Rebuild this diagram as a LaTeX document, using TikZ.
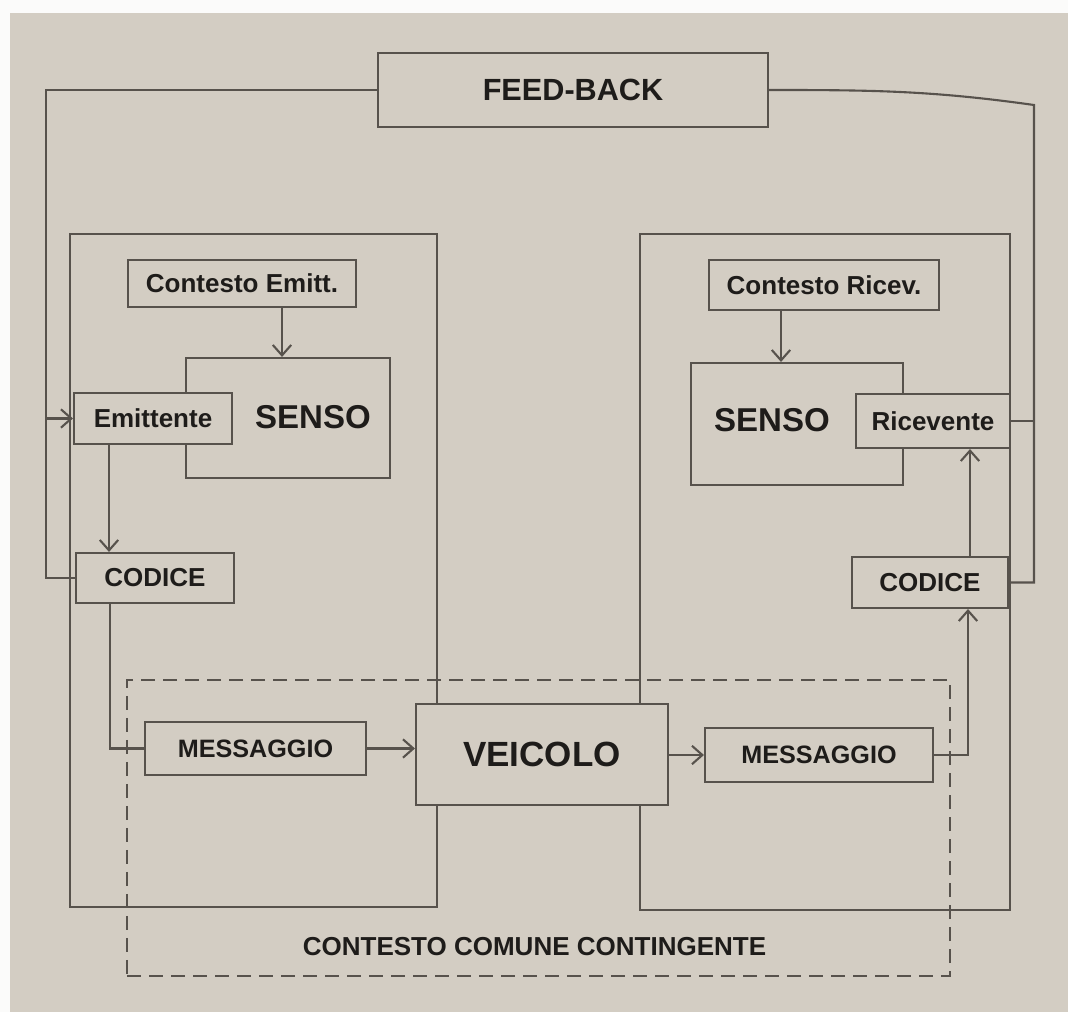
\documentclass[tikz,border=0pt]{standalone}
\usepackage{fontspec}
\setmainfont{Liberation Sans}
\usetikzlibrary{arrows.meta}

\definecolor{paper}{HTML}{D3CDC3}
\definecolor{ink}{HTML}{57524C}
\definecolor{txt}{HTML}{1E1C1A}

\tikzset{
  wire/.style={draw=ink,line width=1.5pt},
  arr/.style={wire,-{Straight Barb[length=2.6mm,width=4.6mm]}},
  box/.style={wire,fill=paper,inner sep=0pt,text=txt,
    font=\bfseries\fontsize{18.5}{20}\selectfont},
  side/.style={wire,inner sep=0pt},
  big/.style={text=txt,inner sep=0pt,font=\bfseries\fontsize{23.5}{26}\selectfont}
}

\begin{document}
\begin{tikzpicture}[x=2.5mm,y=-2.5mm]
  % page
  \fill[white!92!paper] (0,0) rectangle (106.8,101.2);
  \fill[paper] (1,1.3) rectangle (106.8,101.2);
  \useasboundingbox (0,0) rectangle (106.8,101.2);

  % sender and receiver sides
  \node[side,minimum width=91.75mm,minimum height=168.25mm] (emside) at (25.35,57.05) {};
  \node[side,minimum width=92.5mm,minimum height=169mm] (ricside) at (82.5,57.2) {};

  % shared context
  \node[side,dash pattern=on 3.5mm off 2mm,minimum width=205.75mm,minimum height=74mm] (comune) at (53.85,82.8) {};
  \node[text=txt,font=\bfseries\fontsize{18.5}{20}\selectfont] (comunet) at (53.45,94.7) {CONTESTO COMUNE CONTINGENTE};

  \node[box,minimum width=97.5mm,minimum height=18.5mm,font=\bfseries\fontsize{21.8}{24}\selectfont] (fb) at (57.3,9.0) {FEED-BACK};

  % sender
  \node[box,minimum width=57mm,minimum height=11.75mm] (ctxE) at (24.2,28.35) {Contesto Emitt.};
  \node[box,minimum width=51mm,minimum height=30mm] (sensoE) at (28.8,41.8) {};
  \node[big] (sensoEt) at (31.3,41.7) {SENSO};
  \node[box,minimum width=39.5mm,minimum height=12.75mm] (emit) at (15.3,41.85) {Emittente};
  \node[box,minimum width=39.5mm,minimum height=12.5mm] (codE) at (15.5,57.8) {CODICE};
  \node[box,minimum width=55.25mm,minimum height=13.25mm,font=\bfseries\fontsize{17.9}{20}\selectfont] (msgE) at (25.55,74.85) {MESSAGGIO};

  \node[box,minimum width=63mm,minimum height=25.25mm,font=\bfseries\fontsize{24.9}{27}\selectfont] (veic) at (54.2,75.45) {VEICOLO};

  % receiver
  \node[box,minimum width=57mm,minimum height=13.5mm,font=\bfseries\fontsize{17.9}{20}\selectfont] (msgR) at (81.9,75.5) {MESSAGGIO};
  \node[box,minimum width=39mm,minimum height=12.75mm] (codR) at (93.0,58.25) {CODICE};
  \node[box,minimum width=53mm,minimum height=30.5mm] (sensoR) at (79.7,42.4) {};
  \node[big] (sensoRt) at (77.2,42.0) {SENSO};
  \node[box,minimum width=38.5mm,minimum height=13.5mm] (ricev) at (93.3,42.1) {Ricevente};
  \node[box,minimum width=57.5mm,minimum height=12.5mm] (ctxR) at (82.4,28.5) {Contesto Ricev.};

  % flow of the message
  \draw[arr] ([xshift=10mm]ctxE.south) -- ([xshift=10mm]ctxE.south |- sensoE.north);
  \draw[arr] ([xshift=-11mm]emit.south) -- ([xshift=-11mm]emit.south |- codE.north);
  \draw[wire] ([xshift=-11.25mm]codE.south) |- (msgE.west);
  \draw[arr] (msgE.east) -- (msgE.east -| veic.west);
  \draw[arr] (veic.east |- msgR.west) -- (msgR.west);
  \draw[arr] (msgR.east) -| ([xshift=9.5mm]codR.south);
  \draw[arr] ([xshift=10mm]codR.north) -- ([xshift=10mm]codR.north |- ricev.south);
  \draw[arr] ([xshift=-10.75mm]ctxR.south) -- ([xshift=-10.75mm]ctxR.south |- sensoR.north);

  % feed-back loop
  \coordinate (fbL) at (4.6,9.0);
  \coordinate (fbR) at (103.4,10.5);
  \draw[wire] (fb.west) -- (fbL) |- (codE.west);
  \draw[arr] (fbL |- emit.west) -- (emit.west);
  \draw[wire] (fb.east) to[out=0,in=172] (fbR) |- (codR.east);
  \draw[wire] (fbR |- ricev.east) -- (ricev.east);
\end{tikzpicture}
\end{document}
